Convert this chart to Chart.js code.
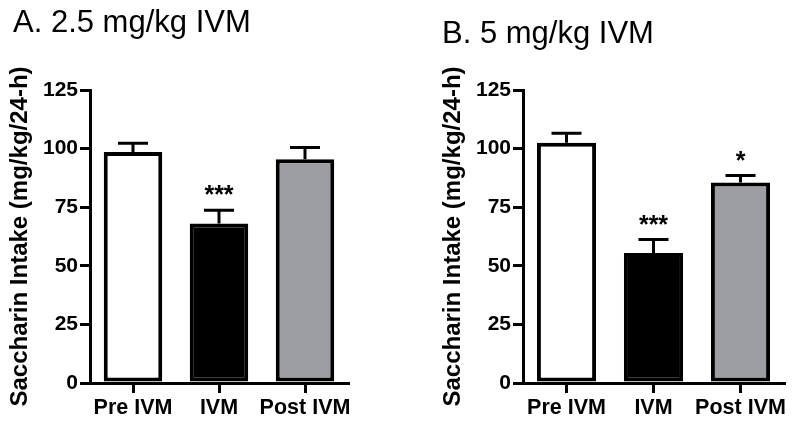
<!DOCTYPE html>
<html>
<head>
<meta charset="utf-8">
<script src="https://cdn.jsdelivr.net/npm/chart.js@4/dist/chart.umd.min.js"></script>
<style>
  body { margin: 0; background: #fff; }
  #wrap { position: relative; width: 796px; height: 424px; }
  canvas { position: absolute; top: 0; }
</style>
</head>
<body>
<div id="wrap">
  <canvas id="chartA" width="398" height="424" style="left:0"></canvas>
  <canvas id="chartB" width="398" height="424" style="left:398px"></canvas>
</div>
<script>
var categories = ["Pre IVM", "IVM", "Post IVM"];
var meanA = [98.5, 68, 95.5];
var semA = [3.8, 5.7, 5];
var starsA = ["", "***", ""];
var meanB = [102.5, 55.5, 85.5];
var semB = [4, 5.7, 3];
var starsB = ["", "***", "*"];
var barColors = ["#ffffff", "#000000", "#9d9ea3"];

var fontFamily = "'Liberation Sans', Arial, Helvetica, sans-serif";

// upper error bars + significance stars
var errorBars = {
  id: "errorBars",
  afterDatasetsDraw: function (chart, args, opts) {
    var ctx = chart.ctx;
    var y = chart.scales.y;
    var meta = chart.getDatasetMeta(0);
    var vals = chart.data.datasets[0].data;
    ctx.save();
    ctx.strokeStyle = "#000";
    ctx.lineWidth = 3;
    meta.data.forEach(function (bar, i) {
      var top = y.getPixelForValue(vals[i] + opts.sem[i]);
      ctx.beginPath();
      ctx.moveTo(bar.x, bar.y);
      ctx.lineTo(bar.x, top);
      ctx.moveTo(bar.x - 15, top);
      ctx.lineTo(bar.x + 15, top);
      ctx.stroke();
      if (opts.stars[i]) {
        ctx.fillStyle = "#000";
        ctx.font = "bold 25px " + fontFamily;
        ctx.textAlign = "center";
        ctx.textBaseline = "alphabetic";
        ctx.fillText(opts.stars[i], bar.x, top - 7);
      }
    });
    ctx.restore();
  }
};

// panel heading, placed freely
var panelTitle = {
  id: "panelTitle",
  afterDraw: function (chart, args, opts) {
    var ctx = chart.ctx;
    ctx.save();
    ctx.fillStyle = "#000";
    ctx.font = "31px " + fontFamily;
    ctx.textAlign = "left";
    ctx.textBaseline = "alphabetic";
    ctx.fillText(opts.text, opts.x, opts.y);
    ctx.restore();
  }
};

function makeChart(id, means, sems, stars, title, titleX, titleY, padLeft, padRight) {
  return new Chart(id, {
    type: "bar",
    data: {
      labels: categories,
      datasets: [{
        data: means,
        backgroundColor: barColors,
        borderColor: "#000",
        borderWidth: 4,
        borderSkipped: false,
        barPercentage: 0.68,
        categoryPercentage: 1
      }]
    },
    plugins: [errorBars, panelTitle],
    options: {
      responsive: false,
      animation: false,
      layout: { padding: { top: 90, left: padLeft, right: padRight, bottom: 0 } },
      plugins: {
        legend: { display: false },
        tooltip: { enabled: false },
        errorBars: { sem: sems, stars: stars },
        panelTitle: { text: title, x: titleX, y: titleY }
      },
      scales: {
        x: {
          afterFit: function (s) { s.height = 41; },
          border: { display: true, color: "#000", width: 3 },
          grid: { offset: false, drawOnChartArea: false, drawTicks: true, tickLength: 10, color: "#000", lineWidth: 3 },
          ticks: { color: "#000", padding: 2, maxRotation: 0, minRotation: 0, autoSkip: false,
                   font: { family: fontFamily, size: 21.5, weight: "bold" } }
        },
        y: {
          min: 0,
          max: 125,
          afterFit: function (s) { s.width = 90; },
          border: { display: true, color: "#000", width: 3 },
          grid: { drawOnChartArea: false, drawTicks: true, tickLength: 10, color: "#000", lineWidth: 3 },
          ticks: { stepSize: 25, color: "#000", padding: 2, font: { family: fontFamily, size: 21, weight: "bold" } },
          title: {
            display: true,
            text: "Saccharin Intake (mg/kg/24-h)",
            color: "#000",
            padding: { top: 5.5, bottom: 0 },
            font: { family: fontFamily, size: 24, weight: "bold" }
          }
        }
      }
    }
  });
}

makeChart("chartA", meanA, semA, starsA, "A. 2.5 mg/kg IVM", 13, 32, 0, 50);
makeChart("chartB", meanB, semB, starsB, "B. 5 mg/kg IVM", 44, 43, 35, 12);
</script>
</body>
</html>
